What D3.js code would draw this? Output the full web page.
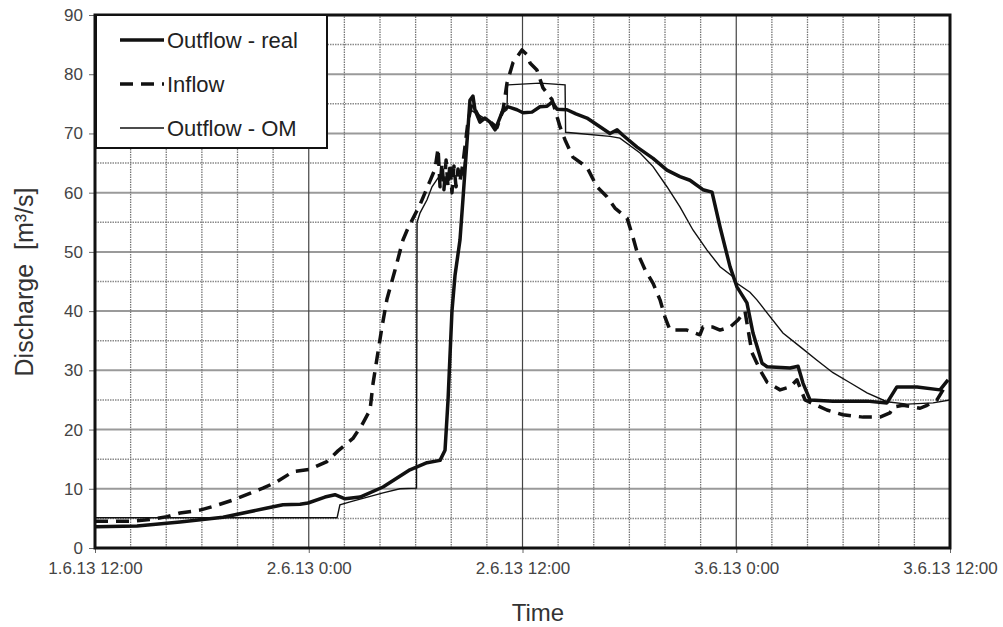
<!DOCTYPE html>
<html>
<head>
<meta charset="UTF-8" />
<title>Discharge</title>
<script src="https://d3js.org/d3.v7.min.js"></script>
<style>
  body { margin: 0; background: #fff; }
  text { font-family: "Liberation Sans", Arial, sans-serif; white-space: pre; }
</style>
</head>
<body>
<div id="main"></div>
<script>
// hours after 1.6.13 12:00, discharge in m3/s
var realHours = [0, 2.36, 4.77, 7.19, 9.6, 10.55, 11.51, 11.96, 12.91, 13.47, 14.04, 14.88, 16.17, 17.68, 18.64, 19.37, 19.65, 19.82, 20.04, 20.21, 20.49, 20.66, 20.88, 21.05, 21.22, 21.33, 21.61, 21.89, 22.18, 22.46, 22.62, 22.91, 23.19, 23.69, 24.03, 24.53, 24.98, 25.38, 25.66, 25.94, 26.5, 27.0, 27.62, 28.91, 29.31, 29.64, 30.43, 31.33, 32.11, 32.84, 33.4, 34.13, 34.64, 35.09, 35.65, 36.04, 36.6, 36.94, 37.45, 37.73, 39.02, 39.47, 39.75, 40.14, 41.43, 43.34, 44.46, 45.02, 46.15, 47.44, 47.89];
var realValues = [3.6, 3.7, 4.4, 5.2, 6.7, 7.3, 7.4, 7.6, 8.6, 9.0, 8.3, 8.6, 10.3, 13.2, 14.4, 14.8, 16.5, 25, 40, 46, 52, 59, 68.4, 75.6, 76.3, 74, 71.9, 72.6, 71.9, 70.6, 71.8, 74, 74.5, 74, 73.5, 73.6, 74.5, 74.6, 75.3, 74.1, 74, 73.3, 72.6, 70, 70.6, 69.7, 67.7, 65.8, 63.8, 62.7, 62.1, 60.5, 60.1, 54.2, 47.5, 44.1, 41.4, 36.3, 31.2, 30.6, 30.4, 30.7, 27.8, 25, 24.8, 24.8, 24.5, 27.2, 27.2, 26.7, 28.4];

var inflowHours = [0, 1.96, 3.09, 4.04, 4.77, 5.89, 6.62, 7.75, 9.43, 10.22, 11.12, 12.07, 13.02, 13.64, 14.48, 14.99, 15.44, 15.61, 15.83, 16.11, 16.39, 16.84, 17.29, 17.57, 18.25, 18.81, 19.09, 19.26, 19.37, 19.48, 19.59, 19.71, 19.82, 19.93, 20.04, 20.15, 20.27, 20.38, 20.49, 20.66, 20.94, 21.16, 21.61, 22.18, 22.57, 22.91, 23.13, 23.47, 23.97, 24.25, 24.42, 24.81, 25.15, 25.66, 26.11, 26.39, 26.83, 27.62, 28.18, 28.74, 29.19, 29.87, 30.2, 30.43, 30.88, 31.33, 31.72, 32.0, 32.28, 33.23, 33.96, 34.13, 34.69, 35.09, 35.65, 36.1, 36.49, 36.88, 37.33, 37.73, 38.46, 39.02, 39.41, 39.86, 41.09, 41.99, 43.12, 44.07, 44.63, 44.8, 45.36, 46.32, 46.71, 47.27, 47.83];
var inflowValues = [4.5, 4.5, 4.8, 5.3, 5.9, 6.4, 7.0, 8.1, 10.1, 11.2, 12.9, 13.3, 14.6, 16.4, 18.5, 20.8, 23.3, 27.8, 32, 37.3, 42, 46.9, 52, 54, 58, 62, 64, 67.5, 61, 65, 60.5, 65.5, 61, 65, 60, 64.5, 61, 64, 62, 65, 72, 75, 72.5, 72, 71, 74, 78.5, 82, 84.1, 83.3, 81.9, 80.7, 77.7, 75.7, 71.1, 68.9, 66, 64.3, 61, 59.3, 57.4, 55.7, 52.5, 50, 47, 44.7, 41.9, 39, 36.8, 36.8, 36, 37.3, 37.3, 36.8, 37.3, 38.5, 40, 33, 30.1, 28, 26.7, 27.2, 28.4, 25, 23.3, 22.5, 22.1, 22.1, 22.8, 23.8, 24.1, 23.6, 24.1, 25, 27.8];

var omHours = [0, 13.59, 13.75, 14.32, 16.17, 17.12, 18.05, 18.08, 18.25, 18.64, 18.92, 19.26, 20.66, 21.05, 21.33, 21.89, 22.46, 22.91, 23.13, 23.16, 24.98, 26.39, 26.42, 28.91, 29.47, 30.6, 31.33, 32.11, 32.84, 33.57, 34.36, 35.09, 35.82, 36.04, 36.77, 37.16, 37.73, 38.62, 39.58, 40.53, 41.43, 42.39, 43.34, 44.46, 45.59, 47.05, 48];
var omValues = [5.1, 5.1, 7.3, 7.8, 9.3, 10, 10.1, 55, 56.6, 58.8, 61, 62.5, 63, 74, 73.5, 72.5, 71, 73.5, 74, 78.2, 78.5, 78.2, 70.2, 69.5, 69.2, 66.7, 64.4, 61, 57.6, 53.7, 50.3, 47.5, 45.8, 44.7, 43.2, 41.9, 39.7, 36.3, 34, 31.7, 29.6, 27.9, 26.2, 24.7, 24.3, 24.5, 25];

var yTicks = [0, 10, 20, 30, 40, 50, 60, 70, 80, 90];
var seriesNames = ['Outflow - real', 'Inflow', 'Outflow - OM'];

var width = 1003, height = 627;
var margin = {left: 95, right: 53, top: 15, bottom: 79};
var start = new Date(2013, 5, 1, 12, 0);
var end = new Date(2013, 5, 3, 12, 0);

var svg = d3.select('#main').append('svg').attr('width', width).attr('height', height);

var x = d3.scaleTime().domain([start, end]).range([margin.left, width - margin.right]);
var y = d3.scaleLinear().domain([0, 90]).range([height - margin.bottom, margin.top]);

function toDate(h) { return new Date(start.getTime() + h * 3600000); }
function series(hours, values) { return hours.map(function (h, i) { return [toDate(h), values[i]]; }); }

// grid
var grid = svg.append('g');
var minorY = d3.range(5, 90, 10);
grid.selectAll('.hmin').data(minorY).enter().append('line')
  .attr('x1', x.range()[0]).attr('x2', x.range()[1])
  .attr('y1', d => y(d)).attr('y2', d => y(d))
  .attr('stroke', '#8a8a8a').attr('stroke-width', 1.5).attr('stroke-dasharray', '1.5,1');
grid.selectAll('.hmaj').data(yTicks.slice(1, -1)).enter().append('line')
  .attr('x1', x.range()[0]).attr('x2', x.range()[1])
  .attr('y1', d => y(d)).attr('y2', d => y(d))
  .attr('stroke', '#9a9a9a').attr('stroke-width', 2);
var vTimes = d3.timeHour.every(2).range(start, end).slice(1);
grid.selectAll('.v').data(vTimes).enter().append('line')
  .attr('x1', d => x(d)).attr('x2', d => x(d))
  .attr('y1', y(0)).attr('y2', y(90))
  .attr('stroke', d => d.getHours() % 12 === 0 ? '#444' : '#777')
  .attr('stroke-width', d => d.getHours() % 12 === 0 ? 1.2 : 1.3)
  .attr('stroke-dasharray', d => d.getHours() % 12 === 0 ? null : '1.5,1');

// lines
svg.append('clipPath').attr('id', 'clip').append('rect')
  .attr('x', margin.left).attr('y', margin.top)
  .attr('width', width - margin.left - margin.right).attr('height', height - margin.top - margin.bottom);
var line = d3.line().x(d => x(d[0])).y(d => y(d[1]));
var plot = svg.append('g').attr('clip-path', 'url(#clip)');
plot.append('path').datum(series(omHours, omValues)).attr('d', line)
  .attr('fill', 'none').attr('stroke', '#111').attr('stroke-width', 1.4);
plot.append('path').datum(series(inflowHours, inflowValues)).attr('d', line)
  .attr('fill', 'none').attr('stroke', '#111').attr('stroke-width', 3.5)
  .attr('stroke-dasharray', '13,8').attr('stroke-linejoin', 'round');
plot.append('path').datum(series(realHours, realValues)).attr('d', line)
  .attr('fill', 'none').attr('stroke', '#111').attr('stroke-width', 3.5).attr('stroke-linejoin', 'round');

// axes
var fmt = d3.timeFormat('%-d.%-m.%y %-H:%M');
var xAxis = svg.append('g').attr('transform', 'translate(0,' + y(0) + ')')
  .call(d3.axisBottom(x).tickValues(d3.timeHour.every(12).range(start, d3.timeHour.offset(end, 1))).tickFormat(fmt).tickSize(5).tickPadding(9));
var yAxis = svg.append('g').attr('transform', 'translate(' + margin.left + ',0)')
  .call(d3.axisLeft(y).tickValues(yTicks).tickSize(6).tickPadding(6));
[xAxis, yAxis].forEach(function (a) {
  a.select('.domain').remove();
  a.selectAll('.tick line').attr('stroke', '#666');
  a.selectAll('text').attr('font-size', 17).attr('fill', '#444')
    .style('font-family', '"Liberation Sans", Arial, sans-serif');
});

// frame
svg.append('rect').attr('x', margin.left).attr('y', margin.top)
  .attr('width', width - margin.left - margin.right).attr('height', height - margin.top - margin.bottom)
  .attr('fill', 'none').attr('stroke', '#111').attr('stroke-width', 3);

// axis titles
svg.append('text').attr('transform', 'translate(33,282) rotate(-90)')
  .attr('text-anchor', 'middle').attr('font-size', 25).attr('fill', '#333')
  .text('Discharge  [m\u00b3/s]');
svg.append('text').attr('x', 538).attr('y', 621)
  .attr('text-anchor', 'middle').attr('font-size', 24).attr('fill', '#333').text('Time');

// legend
var legend = svg.append('g').attr('transform', 'translate(96,15)');
legend.append('rect').attr('width', 231).attr('height', 133)
  .attr('fill', '#fff').attr('stroke', '#111').attr('stroke-width', 2);
var styles = [{w: 3.5, dash: null}, {w: 3.5, dash: '13,8'}, {w: 1.4, dash: null}];
var item = legend.selectAll('.item').data(seriesNames).enter().append('g')
  .attr('transform', (d, i) => 'translate(0,' + (25 + i * 44) + ')');
item.append('line').attr('x1', 24).attr('x2', 68).attr('y1', 0).attr('y2', 0)
  .attr('stroke', '#111').attr('stroke-width', (d, i) => styles[i].w)
  .attr('stroke-dasharray', (d, i) => styles[i].dash);
item.append('text').attr('x', 71).attr('y', 8).attr('font-size', 22).attr('fill', '#222').text(d => d);
</script>
</body>
</html>
